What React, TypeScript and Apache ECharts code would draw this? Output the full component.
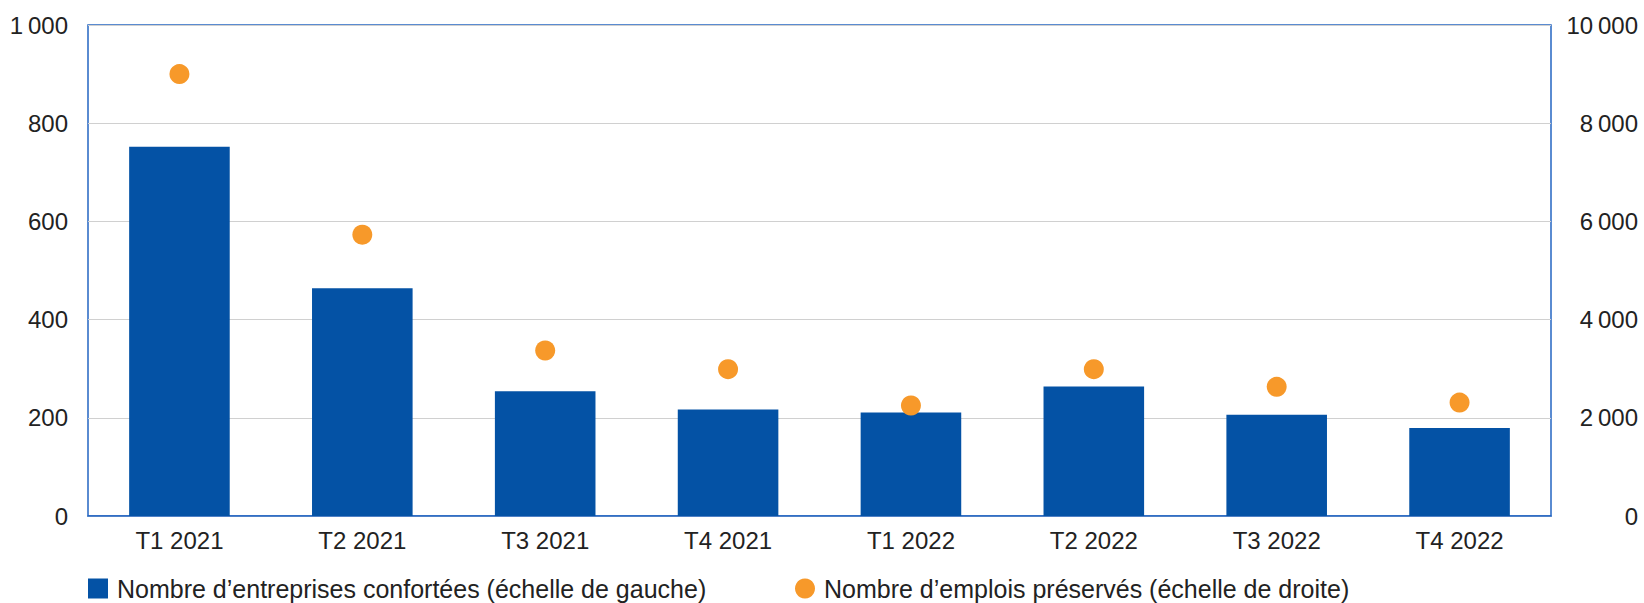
import React, { useEffect, useRef } from "react";
import * as echarts from "echarts";

const categories = ["T1 2021", "T2 2021", "T3 2021", "T4 2021", "T1 2022", "T2 2022", "T3 2022", "T4 2022"];
const entreprises = [752, 464, 254, 217, 211, 264, 206, 179];
const emplois = [9000, 5730, 3370, 2990, 2250, 2990, 2630, 2310];
const seriesNames = [
  "Nombre d\u2019entreprises confortées (échelle de gauche)",
  "Nombre d\u2019emplois préservés (échelle de droite)",
];

const fmt = (v: number) => {
  if (v >= 1000) {
    const t = Math.floor(v / 1000);
    const r = String(v % 1000).padStart(3, "0");
    return `${t}\u202f${r}`;
  }
  return String(v);
};

const FONT = "'Liberation Sans', Arial, sans-serif";
const TXT = "#222222";
const BORDER = "#2466C2";

export default function App() {
  const ref = useRef<HTMLDivElement>(null);
  useEffect(() => {
    if (!ref.current) return;
    const chart = echarts.init(ref.current, undefined, { renderer: "svg" });
    chart.setOption({
      animation: false,
      backgroundColor: "#ffffff",
      textStyle: { fontFamily: FONT },
      grid: {
        left: 88,
        right: 93,
        top: 25,
        bottom: 87,
        show: true,
        borderColor: BORDER,
        borderWidth: 1.5,
        containLabel: false,
      },
      legend: [
        {
          data: [{ name: seriesNames[0], icon: "rect" }],
          left: 88,
          top: 576,
          padding: 0,
          itemWidth: 20,
          itemHeight: 20,
          textStyle: { fontSize: 25, lineHeight: 25, color: TXT, fontFamily: FONT, padding: [0, 0, 0, 4] },
        },
        {
          data: [{ name: seriesNames[1], icon: "circle" }],
          left: 795,
          top: 576,
          padding: 0,
          itemWidth: 20,
          itemHeight: 20,
          textStyle: { fontSize: 25, lineHeight: 25, color: TXT, fontFamily: FONT, padding: [0, 0, 0, 4] },
        },
      ],
      xAxis: {
        type: "category",
        data: categories,
        axisLine: { show: true, lineStyle: { color: BORDER, width: 1.5 } },
        axisTick: { show: false },
        axisLabel: { fontSize: 24, color: TXT, margin: 12, fontFamily: FONT },
      },
      yAxis: [
        {
          type: "value",
          min: 0,
          max: 1000,
          interval: 200,
          axisLine: { show: false },
          axisTick: { show: false },
          splitLine: { show: true, lineStyle: { color: "#D0D0D0", width: 1 } },
          axisLabel: { fontSize: 24, color: TXT, margin: 20, fontFamily: FONT, formatter: fmt },
        },
        {
          type: "value",
          min: 0,
          max: 10000,
          interval: 2000,
          position: "right",
          axisLine: { show: false },
          axisTick: { show: false },
          splitLine: { show: false },
          axisLabel: {
            fontSize: 24,
            color: TXT,
            margin: 87,
            align: "right",
            fontFamily: FONT,
            formatter: fmt,
          },
        },
      ],
      series: [
        {
          name: seriesNames[0],
          type: "bar",
          data: entreprises,
          yAxisIndex: 0,
          barWidth: "55%",
          itemStyle: { color: "#0452A5" },
        },
        {
          name: seriesNames[1],
          type: "scatter",
          data: emplois,
          yAxisIndex: 1,
          symbol: "circle",
          symbolSize: 20,
          itemStyle: { color: "#F7992A", opacity: 1 },
        },
      ],
    });
    return () => chart.dispose();
  }, []);
  return (
    <div
      ref={ref}
      style={{ position: "fixed", left: 0, top: 0, width: 1644, height: 603 }}
    />
  );
}
